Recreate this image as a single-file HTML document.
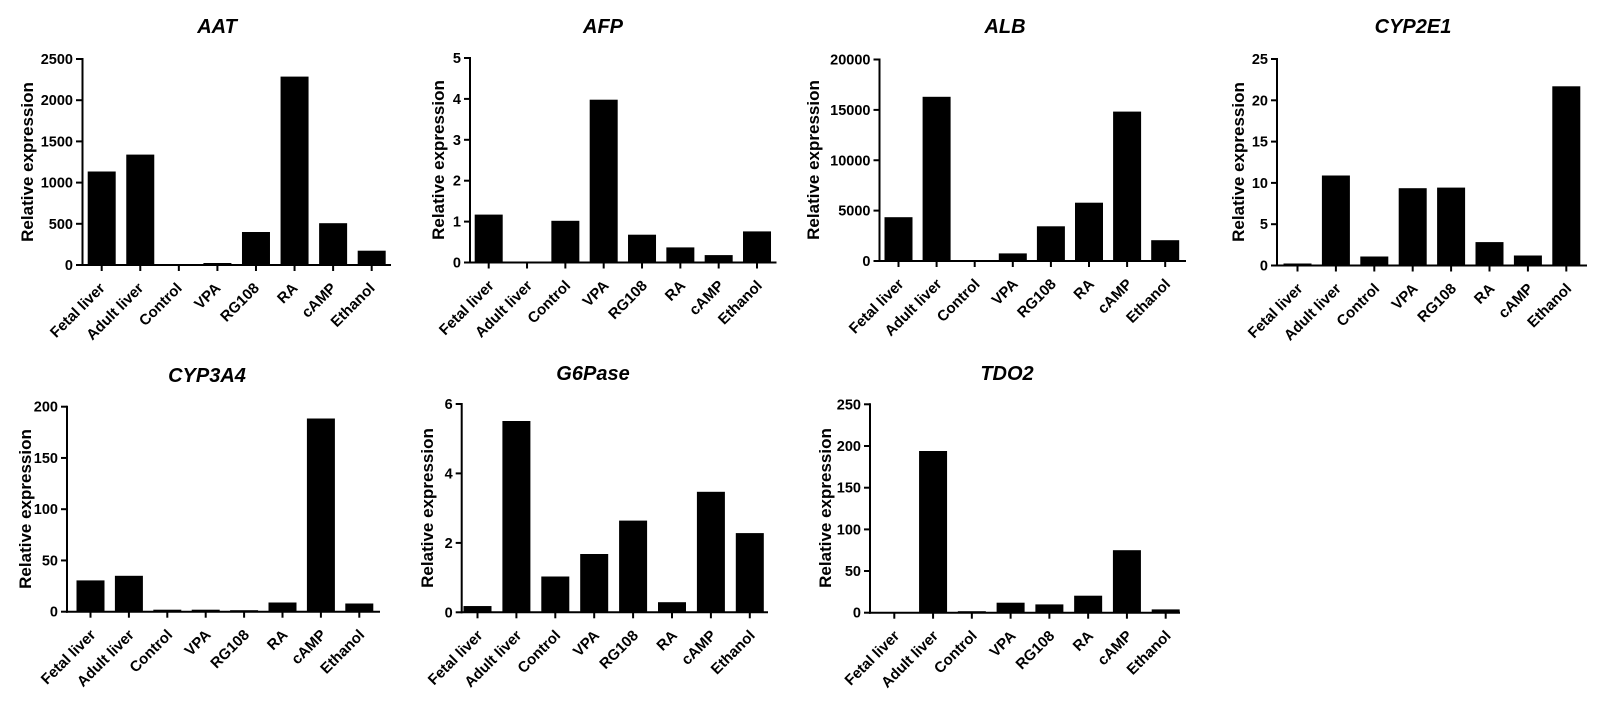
<!DOCTYPE html>
<html>
<head>
<meta charset="utf-8">
<style>
html,body{margin:0;padding:0;background:#fff;}
svg{display:block;}
text{font-family:"Liberation Sans",Arial,sans-serif;font-weight:bold;fill:#000;}
.t{font-size:20px;font-style:italic;text-anchor:middle;}
.yl{font-size:17px;text-anchor:middle;}
.tk{font-size:14.5px;text-anchor:end;}
.xl{font-size:15px;text-anchor:end;}
line{stroke:#000;stroke-width:2;}
rect{fill:#000;}
</style>
</head>
<body>
<svg width="1600" height="703" viewBox="0 0 1600 703" xmlns="http://www.w3.org/2000/svg">
<rect x="0" y="0" width="1600" height="703" fill="#fff" style="fill:#fff"/>

<!-- AAT -->
<g>
<text class="t" x="217" y="33">AAT</text>
<text class="yl" transform="translate(33,162) rotate(-90)">Relative expression</text>
<line x1="82.5" y1="58" x2="82.5" y2="266"/>
<line x1="81.5" y1="265" x2="391" y2="265"/>
<line x1="76" y1="265" x2="82" y2="265"/><line x1="76" y1="223.8" x2="82" y2="223.8"/><line x1="76" y1="182.6" x2="82" y2="182.6"/><line x1="76" y1="141.4" x2="82" y2="141.4"/><line x1="76" y1="100.2" x2="82" y2="100.2"/><line x1="76" y1="59" x2="82" y2="59"/>
<text class="tk" x="73" y="270">0</text><text class="tk" x="73" y="228.8">500</text><text class="tk" x="73" y="187.6">1000</text><text class="tk" x="73" y="146.4">1500</text><text class="tk" x="73" y="105.2">2000</text><text class="tk" x="73" y="64">2500</text>
<rect x="87.7" y="171.5" width="28" height="93.5"/>
<rect x="126.27" y="154.6" width="28" height="110.4"/>
<rect x="203.41" y="263" width="28" height="2"/>
<rect x="241.98" y="232" width="28" height="33"/>
<rect x="280.55" y="76.6" width="28" height="188.4"/>
<rect x="319.12" y="223.2" width="28" height="41.8"/>
<rect x="357.69" y="250.7" width="28" height="14.3"/>
<line x1="101.7" y1="265" x2="101.7" y2="271"/><line x1="140.27" y1="265" x2="140.27" y2="271"/><line x1="178.84" y1="265" x2="178.84" y2="271"/><line x1="217.41" y1="265" x2="217.41" y2="271"/><line x1="255.98" y1="265" x2="255.98" y2="271"/><line x1="294.55" y1="265" x2="294.55" y2="271"/><line x1="333.12" y1="265" x2="333.12" y2="271"/><line x1="371.69" y1="265" x2="371.69" y2="271"/>
<text class="xl" transform="translate(105.7,289) rotate(-45)">Fetal liver</text>
<text class="xl" transform="translate(144.27,289) rotate(-45)">Adult liver</text>
<text class="xl" transform="translate(182.84,289) rotate(-45)">Control</text>
<text class="xl" transform="translate(221.41,289) rotate(-45)">VPA</text>
<text class="xl" transform="translate(259.98,289) rotate(-45)">RG108</text>
<text class="xl" transform="translate(298.55,289) rotate(-45)">RA</text>
<text class="xl" transform="translate(337.12,289) rotate(-45)">cAMP</text>
<text class="xl" transform="translate(375.69,289) rotate(-45)">Ethanol</text>
</g>

<!-- AFP -->
<g>
<text class="t" x="603" y="33">AFP</text>
<text class="yl" transform="translate(444,160) rotate(-90)">Relative expression</text>
<line x1="470" y1="57" x2="470" y2="263.5"/>
<line x1="469" y1="262.5" x2="776.5" y2="262.5"/>
<line x1="464" y1="262.5" x2="470" y2="262.5"/><line x1="464" y1="221.6" x2="470" y2="221.6"/><line x1="464" y1="180.7" x2="470" y2="180.7"/><line x1="464" y1="139.8" x2="470" y2="139.8"/><line x1="464" y1="98.9" x2="470" y2="98.9"/><line x1="464" y1="58" x2="470" y2="58"/>
<text class="tk" x="461" y="267.5">0</text><text class="tk" x="461" y="226.6">1</text><text class="tk" x="461" y="185.7">2</text><text class="tk" x="461" y="144.8">3</text><text class="tk" x="461" y="103.9">4</text><text class="tk" x="461" y="63">5</text>
<rect x="474.7" y="214.6" width="28" height="47.9"/>
<rect x="551.36" y="220.8" width="28" height="41.7"/>
<rect x="589.69" y="99.7" width="28" height="162.8"/>
<rect x="628.02" y="234.7" width="28" height="27.8"/>
<rect x="666.35" y="247.4" width="28" height="15.1"/>
<rect x="704.68" y="255.1" width="28" height="7.4"/>
<rect x="743.01" y="231.4" width="28" height="31.1"/>
<line x1="488.7" y1="262.5" x2="488.7" y2="268.5"/><line x1="527.03" y1="262.5" x2="527.03" y2="268.5"/><line x1="565.36" y1="262.5" x2="565.36" y2="268.5"/><line x1="603.69" y1="262.5" x2="603.69" y2="268.5"/><line x1="642.02" y1="262.5" x2="642.02" y2="268.5"/><line x1="680.35" y1="262.5" x2="680.35" y2="268.5"/><line x1="718.68" y1="262.5" x2="718.68" y2="268.5"/><line x1="757.01" y1="262.5" x2="757.01" y2="268.5"/>
<text class="xl" transform="translate(494.7,286.5) rotate(-45)">Fetal liver</text>
<text class="xl" transform="translate(533.03,286.5) rotate(-45)">Adult liver</text>
<text class="xl" transform="translate(571.36,286.5) rotate(-45)">Control</text>
<text class="xl" transform="translate(609.69,286.5) rotate(-45)">VPA</text>
<text class="xl" transform="translate(648.02,286.5) rotate(-45)">RG108</text>
<text class="xl" transform="translate(686.35,286.5) rotate(-45)">RA</text>
<text class="xl" transform="translate(724.68,286.5) rotate(-45)">cAMP</text>
<text class="xl" transform="translate(763.01,286.5) rotate(-45)">Ethanol</text>
</g>

<!-- ALB -->
<g>
<text class="t" x="1005" y="33">ALB</text>
<text class="yl" transform="translate(819,160) rotate(-90)">Relative expression</text>
<line x1="879.5" y1="58.5" x2="879.5" y2="262"/>
<line x1="878.5" y1="261" x2="1186" y2="261"/>
<line x1="873.5" y1="261" x2="879.5" y2="261"/><line x1="873.5" y1="210.6" x2="879.5" y2="210.6"/><line x1="873.5" y1="160.25" x2="879.5" y2="160.25"/><line x1="873.5" y1="109.9" x2="879.5" y2="109.9"/><line x1="873.5" y1="59.5" x2="879.5" y2="59.5"/>
<text class="tk" x="870.5" y="266">0</text><text class="tk" x="870.5" y="215.6">5000</text><text class="tk" x="870.5" y="165.25">10000</text><text class="tk" x="870.5" y="114.9">15000</text><text class="tk" x="870.5" y="64.5">20000</text>
<rect x="884.5" y="217.2" width="28" height="43.8"/>
<rect x="922.6" y="96.8" width="28" height="164.2"/>
<rect x="998.8" y="253.4" width="28" height="7.6"/>
<rect x="1036.9" y="226.3" width="28" height="34.7"/>
<rect x="1075" y="202.7" width="28" height="58.3"/>
<rect x="1113.1" y="111.6" width="28" height="149.4"/>
<rect x="1151.2" y="240.2" width="28" height="20.8"/>
<line x1="898.5" y1="261" x2="898.5" y2="267"/><line x1="936.6" y1="261" x2="936.6" y2="267"/><line x1="974.7" y1="261" x2="974.7" y2="267"/><line x1="1012.8" y1="261" x2="1012.8" y2="267"/><line x1="1050.9" y1="261" x2="1050.9" y2="267"/><line x1="1089" y1="261" x2="1089" y2="267"/><line x1="1127.1" y1="261" x2="1127.1" y2="267"/><line x1="1165.2" y1="261" x2="1165.2" y2="267"/>
<text class="xl" transform="translate(904.5,285) rotate(-45)">Fetal liver</text>
<text class="xl" transform="translate(942.6,285) rotate(-45)">Adult liver</text>
<text class="xl" transform="translate(980.7,285) rotate(-45)">Control</text>
<text class="xl" transform="translate(1018.8,285) rotate(-45)">VPA</text>
<text class="xl" transform="translate(1056.9,285) rotate(-45)">RG108</text>
<text class="xl" transform="translate(1095,285) rotate(-45)">RA</text>
<text class="xl" transform="translate(1133.1,285) rotate(-45)">cAMP</text>
<text class="xl" transform="translate(1171.2,285) rotate(-45)">Ethanol</text>
</g>

<!-- CYP2E1 -->
<g>
<text class="t" x="1413" y="33">CYP2E1</text>
<text class="yl" transform="translate(1244,162) rotate(-90)">Relative expression</text>
<line x1="1277" y1="58" x2="1277" y2="266.5"/>
<line x1="1276" y1="265.5" x2="1587" y2="265.5"/>
<line x1="1271" y1="265.5" x2="1277" y2="265.5"/><line x1="1271" y1="224.2" x2="1277" y2="224.2"/><line x1="1271" y1="182.9" x2="1277" y2="182.9"/><line x1="1271" y1="141.6" x2="1277" y2="141.6"/><line x1="1271" y1="100.3" x2="1277" y2="100.3"/><line x1="1271" y1="59" x2="1277" y2="59"/>
<text class="tk" x="1268" y="270.5">0</text><text class="tk" x="1268" y="229.2">5</text><text class="tk" x="1268" y="187.9">10</text><text class="tk" x="1268" y="146.6">15</text><text class="tk" x="1268" y="105.3">20</text><text class="tk" x="1268" y="64">25</text>
<rect x="1283.5" y="263.5" width="28" height="2"/>
<rect x="1321.9" y="175.5" width="28" height="90"/>
<rect x="1360.3" y="256.5" width="28" height="9"/>
<rect x="1398.7" y="188.2" width="28" height="77.3"/>
<rect x="1437.1" y="187.6" width="28" height="77.9"/>
<rect x="1475.5" y="242.1" width="28" height="23.4"/>
<rect x="1513.9" y="255.5" width="28" height="10"/>
<rect x="1552.3" y="86.3" width="28" height="179.2"/>
<line x1="1297.5" y1="265.5" x2="1297.5" y2="271.5"/><line x1="1335.9" y1="265.5" x2="1335.9" y2="271.5"/><line x1="1374.3" y1="265.5" x2="1374.3" y2="271.5"/><line x1="1412.7" y1="265.5" x2="1412.7" y2="271.5"/><line x1="1451.1" y1="265.5" x2="1451.1" y2="271.5"/><line x1="1489.5" y1="265.5" x2="1489.5" y2="271.5"/><line x1="1527.9" y1="265.5" x2="1527.9" y2="271.5"/><line x1="1566.3" y1="265.5" x2="1566.3" y2="271.5"/>
<text class="xl" transform="translate(1303.5,289.5) rotate(-45)">Fetal liver</text>
<text class="xl" transform="translate(1341.9,289.5) rotate(-45)">Adult liver</text>
<text class="xl" transform="translate(1380.3,289.5) rotate(-45)">Control</text>
<text class="xl" transform="translate(1418.7,289.5) rotate(-45)">VPA</text>
<text class="xl" transform="translate(1457.1,289.5) rotate(-45)">RG108</text>
<text class="xl" transform="translate(1495.5,289.5) rotate(-45)">RA</text>
<text class="xl" transform="translate(1533.9,289.5) rotate(-45)">cAMP</text>
<text class="xl" transform="translate(1572.3,289.5) rotate(-45)">Ethanol</text>
</g>

<!-- CYP3A4 -->
<g>
<text class="t" x="207" y="382">CYP3A4</text>
<text class="yl" transform="translate(31,509) rotate(-90)">Relative expression</text>
<line x1="67" y1="405.7" x2="67" y2="612.7"/>
<line x1="66" y1="611.7" x2="380" y2="611.7"/>
<line x1="61" y1="611.7" x2="67" y2="611.7"/><line x1="61" y1="560.45" x2="67" y2="560.45"/><line x1="61" y1="509.2" x2="67" y2="509.2"/><line x1="61" y1="457.95" x2="67" y2="457.95"/><line x1="61" y1="406.7" x2="67" y2="406.7"/>
<text class="tk" x="58" y="616.7">0</text><text class="tk" x="58" y="565.45">50</text><text class="tk" x="58" y="514.2">100</text><text class="tk" x="58" y="462.95">150</text><text class="tk" x="58" y="411.7">200</text>
<rect x="76.5" y="580.4" width="28" height="31.3"/>
<rect x="114.9" y="575.8" width="28" height="35.9"/>
<rect x="153.3" y="609.7" width="28" height="2"/>
<rect x="191.7" y="609.7" width="28" height="2"/>
<rect x="230.1" y="610.2" width="28" height="1.5"/>
<rect x="268.5" y="602.5" width="28" height="9.2"/>
<rect x="306.9" y="418.5" width="28" height="193.2"/>
<rect x="345.3" y="603.5" width="28" height="8.2"/>
<line x1="90.5" y1="611.7" x2="90.5" y2="617.7"/><line x1="128.9" y1="611.7" x2="128.9" y2="617.7"/><line x1="167.3" y1="611.7" x2="167.3" y2="617.7"/><line x1="205.7" y1="611.7" x2="205.7" y2="617.7"/><line x1="244.1" y1="611.7" x2="244.1" y2="617.7"/><line x1="282.5" y1="611.7" x2="282.5" y2="617.7"/><line x1="320.9" y1="611.7" x2="320.9" y2="617.7"/><line x1="359.3" y1="611.7" x2="359.3" y2="617.7"/>
<text class="xl" transform="translate(96.5,635.7) rotate(-45)">Fetal liver</text>
<text class="xl" transform="translate(134.9,635.7) rotate(-45)">Adult liver</text>
<text class="xl" transform="translate(173.3,635.7) rotate(-45)">Control</text>
<text class="xl" transform="translate(211.7,635.7) rotate(-45)">VPA</text>
<text class="xl" transform="translate(250.1,635.7) rotate(-45)">RG108</text>
<text class="xl" transform="translate(288.5,635.7) rotate(-45)">RA</text>
<text class="xl" transform="translate(326.9,635.7) rotate(-45)">cAMP</text>
<text class="xl" transform="translate(365.3,635.7) rotate(-45)">Ethanol</text>
</g>

<!-- G6Pase -->
<g>
<text class="t" x="593" y="380">G6Pase</text>
<text class="yl" transform="translate(433,508) rotate(-90)">Relative expression</text>
<line x1="461.7" y1="403" x2="461.7" y2="613.3"/>
<line x1="460.7" y1="612.3" x2="768" y2="612.3"/>
<line x1="455.7" y1="612.3" x2="461.7" y2="612.3"/><line x1="455.7" y1="542.9" x2="461.7" y2="542.9"/><line x1="455.7" y1="473.4" x2="461.7" y2="473.4"/><line x1="455.7" y1="404" x2="461.7" y2="404"/>
<text class="tk" x="452.7" y="617.3">0</text><text class="tk" x="452.7" y="547.9">2</text><text class="tk" x="452.7" y="478.4">4</text><text class="tk" x="452.7" y="409">6</text>
<rect x="463.5" y="606.05" width="28" height="6.25"/>
<rect x="502.4" y="421" width="28" height="191.3"/>
<rect x="541.3" y="576.5" width="28" height="35.8"/>
<rect x="580.2" y="554" width="28" height="58.3"/>
<rect x="619.1" y="520.6" width="28" height="91.7"/>
<rect x="658" y="602.2" width="28" height="10.1"/>
<rect x="696.9" y="491.8" width="28" height="120.5"/>
<rect x="735.8" y="533.1" width="28" height="79.2"/>
<line x1="477.5" y1="612.3" x2="477.5" y2="618.3"/><line x1="516.4" y1="612.3" x2="516.4" y2="618.3"/><line x1="555.3" y1="612.3" x2="555.3" y2="618.3"/><line x1="594.2" y1="612.3" x2="594.2" y2="618.3"/><line x1="633.1" y1="612.3" x2="633.1" y2="618.3"/><line x1="672" y1="612.3" x2="672" y2="618.3"/><line x1="710.9" y1="612.3" x2="710.9" y2="618.3"/><line x1="749.8" y1="612.3" x2="749.8" y2="618.3"/>
<text class="xl" transform="translate(483.5,636.3) rotate(-45)">Fetal liver</text>
<text class="xl" transform="translate(522.4,636.3) rotate(-45)">Adult liver</text>
<text class="xl" transform="translate(561.3,636.3) rotate(-45)">Control</text>
<text class="xl" transform="translate(600.2,636.3) rotate(-45)">VPA</text>
<text class="xl" transform="translate(639.1,636.3) rotate(-45)">RG108</text>
<text class="xl" transform="translate(678,636.3) rotate(-45)">RA</text>
<text class="xl" transform="translate(716.9,636.3) rotate(-45)">cAMP</text>
<text class="xl" transform="translate(755.8,636.3) rotate(-45)">Ethanol</text>
</g>

<!-- TDO2 -->
<g>
<text class="t" x="1007" y="380">TDO2</text>
<text class="yl" transform="translate(831,508) rotate(-90)">Relative expression</text>
<line x1="870" y1="403.3" x2="870" y2="613.7"/>
<line x1="869" y1="612.7" x2="1180" y2="612.7"/>
<line x1="864" y1="612.7" x2="870" y2="612.7"/><line x1="864" y1="571" x2="870" y2="571"/><line x1="864" y1="529.4" x2="870" y2="529.4"/><line x1="864" y1="487.7" x2="870" y2="487.7"/><line x1="864" y1="446" x2="870" y2="446"/><line x1="864" y1="404.3" x2="870" y2="404.3"/>
<text class="tk" x="861" y="617.7">0</text><text class="tk" x="861" y="576">50</text><text class="tk" x="861" y="534.4">100</text><text class="tk" x="861" y="492.7">150</text><text class="tk" x="861" y="451">200</text><text class="tk" x="861" y="409.3">250</text>
<rect x="919.07" y="451" width="28" height="161.7"/>
<rect x="957.84" y="611.2" width="28" height="1.5"/>
<rect x="996.61" y="602.7" width="28" height="10"/>
<rect x="1035.38" y="604.4" width="28" height="8.3"/>
<rect x="1074.15" y="595.7" width="28" height="17"/>
<rect x="1112.92" y="550.2" width="28" height="62.5"/>
<rect x="1151.69" y="609.4" width="28" height="3.3"/>
<line x1="894.3" y1="612.7" x2="894.3" y2="618.7"/><line x1="933.07" y1="612.7" x2="933.07" y2="618.7"/><line x1="971.84" y1="612.7" x2="971.84" y2="618.7"/><line x1="1010.61" y1="612.7" x2="1010.61" y2="618.7"/><line x1="1049.38" y1="612.7" x2="1049.38" y2="618.7"/><line x1="1088.15" y1="612.7" x2="1088.15" y2="618.7"/><line x1="1126.92" y1="612.7" x2="1126.92" y2="618.7"/><line x1="1165.69" y1="612.7" x2="1165.69" y2="618.7"/>
<text class="xl" transform="translate(900.3,636.7) rotate(-45)">Fetal liver</text>
<text class="xl" transform="translate(939.07,636.7) rotate(-45)">Adult liver</text>
<text class="xl" transform="translate(977.84,636.7) rotate(-45)">Control</text>
<text class="xl" transform="translate(1016.61,636.7) rotate(-45)">VPA</text>
<text class="xl" transform="translate(1055.38,636.7) rotate(-45)">RG108</text>
<text class="xl" transform="translate(1094.15,636.7) rotate(-45)">RA</text>
<text class="xl" transform="translate(1132.92,636.7) rotate(-45)">cAMP</text>
<text class="xl" transform="translate(1171.69,636.7) rotate(-45)">Ethanol</text>
</g>
</svg>
</body>
</html>
